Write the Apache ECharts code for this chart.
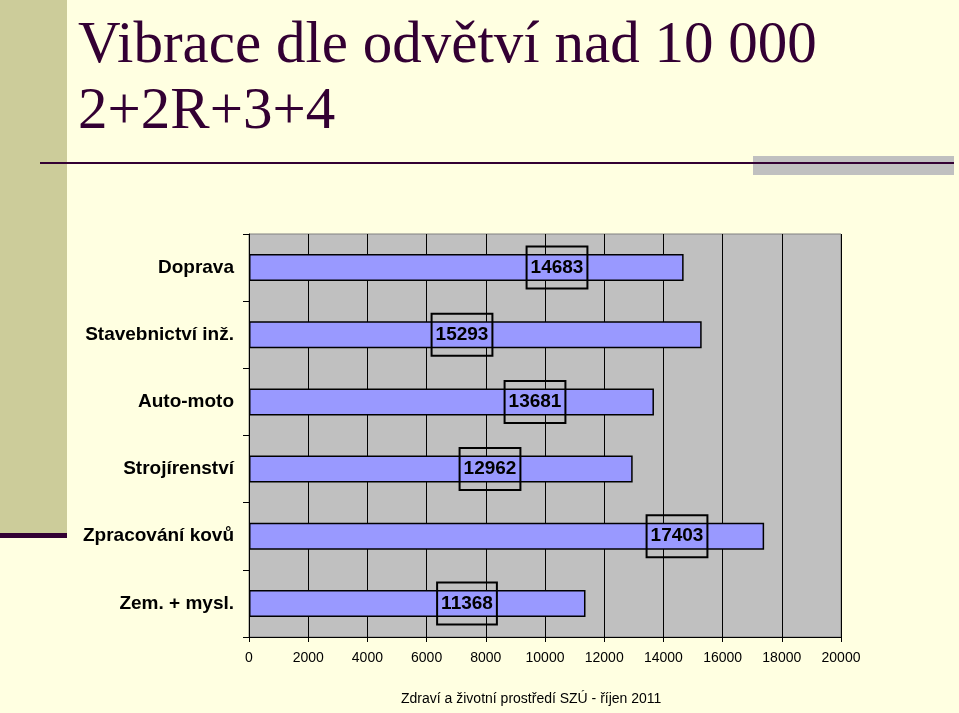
<!DOCTYPE html>
<html><head><meta charset="utf-8">
<script src="https://cdn.jsdelivr.net/npm/echarts@6/dist/echarts.min.js"></script>
<style>html,body{margin:0;padding:0;background:#ffffe1;}#c{width:959px;height:713px;}</style>
</head><body><div id="c"></div>
<script>
const categories = ['Doprava', 'Stavebnictví inž.', 'Auto-moto', 'Strojírenství', 'Zpracování kovů', 'Zem. + mysl.'];
const values = [14683, 15293, 13681, 12962, 17403, 11368];
const xTicks = [0, 2000, 4000, 6000, 8000, 10000, 12000, 14000, 16000, 18000, 20000];
const titleLines = ['Vibrace dle odvětví nad 10 000', '2+2R+3+4'];
const footer = 'Zdraví a životní prostředí SZÚ - říjen 2011';

// label box horizontal placement (px from bar start), as moved in the original slide
const labelShift = [308, 213, 286, 241, 428, 218];

const chart = echarts.init(document.getElementById('c'));
chart.setOption({
  backgroundColor: '#ffffe1',
  animation: false,
  graphic: [
    {type: 'rect', shape: {x: 0, y: 0, width: 67, height: 533}, style: {fill: '#cccc9a'}},
    {type: 'rect', shape: {x: 0, y: 533, width: 67, height: 5}, style: {fill: '#330033'}},
    {type: 'rect', shape: {x: 753, y: 156, width: 201, height: 19}, style: {fill: '#c0c0c0'}},
    {type: 'rect', shape: {x: 40, y: 162, width: 914, height: 2}, style: {fill: '#330033'}},
    {type: 'text', left: 78, top: 17, style: {text: titleLines[0], font: '59px "Liberation Serif", "Times New Roman", serif', fill: '#330033'}},
    {type: 'text', left: 78, top: 83, style: {text: titleLines[1], font: '59px "Liberation Serif", "Times New Roman", serif', fill: '#330033'}},
    {type: 'text', left: 401, top: 692, style: {text: footer, font: '14px "Liberation Sans", Arial, sans-serif', fill: '#000'}}
  ],
  grid: {left: 249, right: 118, top: 234, bottom: 76, show: true, backgroundColor: '#c0c0c0', borderColor: '#808080', borderWidth: 1},
  xAxis: {
    type: 'value', min: xTicks[0], max: xTicks[xTicks.length - 1], interval: 2000,
    axisLine: {show: true, lineStyle: {color: '#000', width: 1}},
    axisTick: {show: true, length: 5, lineStyle: {color: '#000'}},
    splitLine: {show: true, lineStyle: {color: '#000', width: 1}},
    axisLabel: {color: '#000', fontSize: 14, fontFamily: '"Liberation Sans", Arial, sans-serif', margin: 14, formatter: v => String(v)}
  },
  yAxis: {
    type: 'category', data: categories, inverse: true,
    axisLine: {show: true, lineStyle: {color: '#000', width: 1}},
    axisTick: {show: true, length: 6, lineStyle: {color: '#000'}},
    axisLabel: {color: '#000', fontSize: 19, fontWeight: 'bold', fontFamily: '"Liberation Sans", Arial, sans-serif', margin: 15}
  },
  series: [{
    type: 'bar', barWidth: 27,
    itemStyle: {color: '#9999ff', borderColor: '#000', borderWidth: 1.5},
    data: values.map((v, i) => ({
      value: v,
      label: {
        show: true, position: [labelShift[i], '50%'], align: 'center', verticalAlign: 'middle',
        fontSize: 19, fontWeight: 'bold', fontFamily: '"Liberation Sans", Arial, sans-serif', color: '#000',
        borderColor: '#000', borderWidth: 1, padding: [12, 4, 11, 4], backgroundColor: 'transparent'
      }
    }))
  }]
});
</script></body></html>
